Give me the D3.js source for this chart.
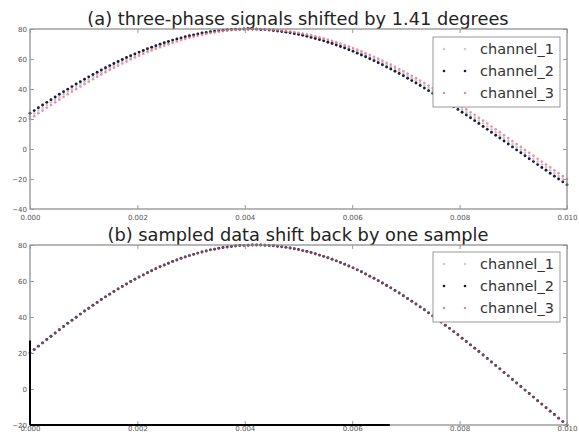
<!DOCTYPE html>
<html>
<head>
<meta charset="utf-8">
<script src="https://cdn.jsdelivr.net/npm/d3@7"></script>
<style>
  html, body { margin: 0; padding: 0; background: #fff; }
  svg { display: block; }
</style>
</head>
<body>
<svg id="chart" width="579" height="434"></svg>
<script>
// ---- data ----
const sampleRate = 12800; // samples per second (256 per 50 Hz cycle)
const seriesNames = ["channel_1", "channel_2", "channel_3"];
const xTicks = [0, 0.002, 0.004, 0.006, 0.008, 0.010];
const xTickLabels = ["0.000", "0.002", "0.004", "0.006", "0.008", "0.010"];
const yTicksTop = [-40, -20, 0, 20, 40, 60, 80];
const yTicksBottom = [-20, 0, 20, 40, 60, 80];
const titleTop = "(a) three-phase signals shifted by 1.41 degrees";
const titleBottom = "(b) sampled data shift back by one sample";

const topChannel3 = [20.0,21.9,23.8,25.6,27.5,29.3,31.1,32.9,34.7,36.5,38.2,39.9,41.6,43.3,44.9,46.5,48.1,49.7,51.2,52.7,54.2,55.6,57.0,58.3,59.7,61.0,62.2,63.4,64.6,65.7,66.8,67.9,68.9,69.9,70.8,71.7,72.6,73.4,74.1,74.8,75.5,76.1,76.7,77.3,77.7,78.2,78.6,78.9,79.2,79.5,79.7,79.8,79.9,80.0,80.0,80.0,79.9,79.7,79.6,79.3,79.0,78.7,78.3,77.9,77.5,76.9,76.4,75.8,75.1,74.4,73.7,72.9,72.1,71.2,70.3,69.3,68.3,67.3,66.2,65.1,63.9,62.7,61.5,60.2,58.9,57.5,56.2,54.7,53.3,51.8,50.3,48.8,47.2,45.6,44.0,42.3,40.6,38.9,37.2,35.4,33.7,31.9,30.1,28.2,26.4,24.5,22.7,20.8,18.9,17.0,15.0,13.1,11.2,9.2,7.3,5.3,3.3,1.4,-0.6,-2.5,-4.5,-6.5,-8.4,-10.4,-12.3,-14.2,-16.2,-18.1,-20.0];
const topChannel1 = [21.9,23.8,25.6,27.5,29.3,31.1,32.9,34.7,36.5,38.2,39.9,41.6,43.3,44.9,46.5,48.1,49.7,51.2,52.7,54.2,55.6,57.0,58.3,59.7,61.0,62.2,63.4,64.6,65.7,66.8,67.9,68.9,69.9,70.8,71.7,72.6,73.4,74.1,74.8,75.5,76.1,76.7,77.3,77.7,78.2,78.6,78.9,79.2,79.5,79.7,79.8,79.9,80.0,80.0,80.0,79.9,79.7,79.6,79.3,79.0,78.7,78.3,77.9,77.5,76.9,76.4,75.8,75.1,74.4,73.7,72.9,72.1,71.2,70.3,69.3,68.3,67.3,66.2,65.1,63.9,62.7,61.5,60.2,58.9,57.5,56.2,54.7,53.3,51.8,50.3,48.8,47.2,45.6,44.0,42.3,40.6,38.9,37.2,35.4,33.7,31.9,30.1,28.2,26.4,24.5,22.7,20.8,18.9,17.0,15.0,13.1,11.2,9.2,7.3,5.3,3.3,1.4,-0.6,-2.5,-4.5,-6.5,-8.4,-10.4,-12.3,-14.2,-16.2,-18.1,-20.0,-21.9];
const topChannel2 = [23.8,25.6,27.5,29.3,31.1,32.9,34.7,36.5,38.2,39.9,41.6,43.3,44.9,46.5,48.1,49.7,51.2,52.7,54.2,55.6,57.0,58.3,59.7,61.0,62.2,63.4,64.6,65.7,66.8,67.9,68.9,69.9,70.8,71.7,72.6,73.4,74.1,74.8,75.5,76.1,76.7,77.3,77.7,78.2,78.6,78.9,79.2,79.5,79.7,79.8,79.9,80.0,80.0,80.0,79.9,79.7,79.6,79.3,79.0,78.7,78.3,77.9,77.5,76.9,76.4,75.8,75.1,74.4,73.7,72.9,72.1,71.2,70.3,69.3,68.3,67.3,66.2,65.1,63.9,62.7,61.5,60.2,58.9,57.5,56.2,54.7,53.3,51.8,50.3,48.8,47.2,45.6,44.0,42.3,40.6,38.9,37.2,35.4,33.7,31.9,30.1,28.2,26.4,24.5,22.7,20.8,18.9,17.0,15.0,13.1,11.2,9.2,7.3,5.3,3.3,1.4,-0.6,-2.5,-4.5,-6.5,-8.4,-10.4,-12.3,-14.2,-16.2,-18.1,-20.0,-21.9,-23.8];
// after shifting back, all three channels coincide with channel_3
const bottomChannel1 = topChannel3;
const bottomChannel2 = topChannel3;
const bottomChannel3 = topChannel3;

const colors = ["#bcc5d4", "#1c1c38", "#e8768c"];

// ---- drawing ----
const svg = d3.select("#chart");
const font = "DejaVu Sans, sans-serif";
const X0 = 30, X1 = 567;

function panel(cfg) {
  const x = d3.scaleLinear().domain([0, 0.010]).range([X0, X1]);
  const y = d3.scaleLinear().domain(cfg.yDomain).range([cfg.bottom, cfg.top]);
  const g = svg.append("g");

  // title
  g.append("text").attr("x", 298).attr("y", cfg.top - 4)
    .attr("text-anchor", "middle").attr("font-family", font)
    .attr("font-size", 17.8).attr("fill", "#222").text(cfg.title);

  // data
  cfg.series.forEach((vals, si) => {
    g.append("g").selectAll("circle").data(vals).join("circle")
      .attr("cx", (d, i) => x(i / sampleRate))
      .attr("cy", d => y(d))
      .attr("r", si === 1 ? 1.45 : 1.35)
      .attr("fill", colors[si])
      .attr("opacity", cfg.opac[si]);
  });

  // frame
  g.append("rect").attr("x", X0).attr("y", cfg.top)
    .attr("width", X1 - X0).attr("height", cfg.bottom - cfg.top)
    .attr("fill", "none").attr("stroke", "#888").attr("stroke-width", 1.2);

  // axes
  const xAxisB = d3.axisBottom(x).tickValues(xTicks)
    .tickFormat((d, i) => xTickLabels[i]).tickSizeInner(-4).tickSizeOuter(0).tickPadding(cfg.xPad);
  const xa = g.append("g").attr("transform", `translate(0,${cfg.bottom})`).call(xAxisB);
  const xAxisT = d3.axisTop(x).tickValues(xTicks).tickFormat("").tickSizeInner(-4).tickSizeOuter(0);
  const xt = g.append("g").attr("transform", `translate(0,${cfg.top})`).call(xAxisT);
  const yAxisL = d3.axisLeft(y).tickValues(cfg.yTicks)
    .tickFormat(d => (d < 0 ? "\u2212" + Math.abs(d) : String(d))).tickSizeInner(-4).tickSizeOuter(0).tickPadding(3);
  const ya = g.append("g").attr("transform", `translate(${X0},0)`).call(yAxisL);
  const yAxisR = d3.axisRight(y).tickValues(cfg.yTicks).tickFormat("").tickSizeInner(-4).tickSizeOuter(0);
  const yr = g.append("g").attr("transform", `translate(${X1},0)`).call(yAxisR);
  [xa, xt, ya, yr].forEach(a => {
    a.select(".domain").remove();
    a.selectAll("line").attr("stroke", "#999");
    a.selectAll("text").attr("font-family", font).attr("font-size", 7).attr("fill", "#555");
  });

  // legend
  const lx = 433, ly = cfg.legendTop, lw = 127, lh = 70;
  const lg = g.append("g");
  lg.append("rect").attr("x", lx).attr("y", ly).attr("width", lw).attr("height", lh)
    .attr("fill", "#fff").attr("stroke", "#999").attr("stroke-width", 1);
  seriesNames.forEach((name, si) => {
    const yy = ly + 12 + si * 22;
    [lx + 11, lx + 32].forEach(mx => {
      lg.append("circle").attr("cx", mx).attr("cy", yy).attr("r", 1.3)
        .attr("fill", colors[si]).attr("opacity", si === 1 ? 1 : 0.85);
    });
    lg.append("text").attr("x", lx + 47).attr("y", yy + 5)
      .attr("font-family", font).attr("font-size", 14.5).attr("fill", "#333").text(name);
  });
  return { x, y, g };
}

panel({
  top: 29, bottom: 209, yDomain: [-40, 80], yTicks: yTicksTop, xPad: 6,
  title: titleTop, series: [topChannel1, topChannel2, topChannel3], legendTop: 37,
  opac: [0.9, 1, 0.8]
});
const p2 = panel({
  top: 245, bottom: 425, yDomain: [-20, 80], yTicks: yTicksBottom, xPad: 1,
  title: titleBottom, series: [bottomChannel1, bottomChannel2, bottomChannel3], legendTop: 252,
  opac: [0.9, 1, 0.45]
});

// darker spine segments seen in the lower panel of the reference
p2.g.append("line").attr("x1", X0).attr("x2", X0).attr("y1", p2.y(27)).attr("y2", 425)
  .attr("stroke", "#000").attr("stroke-width", 2);
p2.g.append("line").attr("x1", X0).attr("x2", p2.x(0.0067)).attr("y1", 425).attr("y2", 425)
  .attr("stroke", "#000").attr("stroke-width", 2);
</script>
</body>
</html>
